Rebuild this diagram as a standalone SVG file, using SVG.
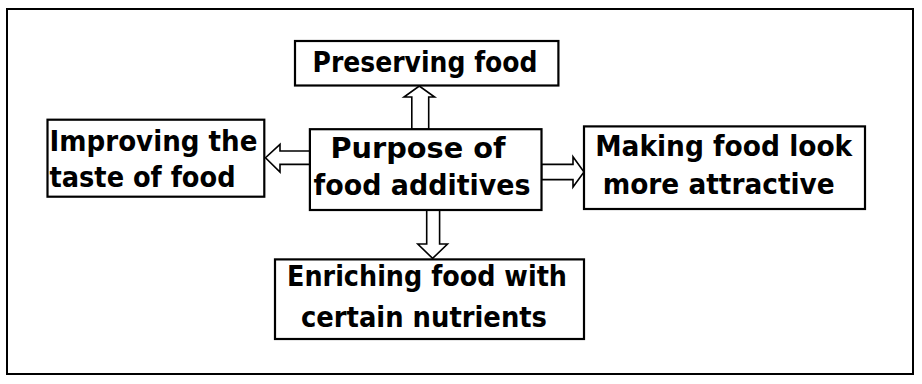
<svg xmlns="http://www.w3.org/2000/svg" width="922" height="384" viewBox="0 0 922 384">
<style>
.box{fill:#fff;stroke:#000;stroke-width:2.2}
.arr{fill:#fff;stroke:#000;stroke-width:1.6;stroke-linejoin:miter}
text{font-family:"DejaVu Sans","Liberation Sans",sans-serif;font-weight:bold;font-size:27.5px;fill:#000;text-anchor:middle}
text.l{text-anchor:start}
</style>
<rect width="922" height="384" fill="#fff"/>
<rect x="7" y="9" width="906" height="365" fill="none" stroke="#000" stroke-width="2"/>
<g id="connectors">
<polygon class="arr" points="411.8,129.2 411.8,97 404,97 419.3,86 434.6,97 428.7,97 428.7,129.2"/>
<polygon class="arr" points="309.9,151 280,151 280,144.4 265.5,157.7 280,172 280,164.4 309.9,164.4"/>
<polygon class="arr" points="541.5,164.4 573,164.4 573,156.8 584,172 573,187 573,179.6 541.5,179.6"/>
<polygon class="arr" points="426.7,210 426.7,244 417.8,244 432.6,258.4 447.5,244 439.6,244 439.6,210"/>
</g>
<g id="preserving"><rect class="box" x="295" y="41" width="263.4" height="44.5"/><text x="425" y="72" textLength="225" lengthAdjust="spacingAndGlyphs">Preserving food</text></g>
<g id="improving"><rect class="box" x="47.5" y="119.7" width="216.8" height="77"/><text class="l" x="49.5" y="150.5" textLength="208" lengthAdjust="spacingAndGlyphs">Improving the</text><text class="l" x="49.5" y="186.5" textLength="186" lengthAdjust="spacingAndGlyphs">taste of food</text></g>
<g id="purpose"><rect class="box" x="309.9" y="129.2" width="231.6" height="80.8"/><text x="418" y="158" textLength="175" lengthAdjust="spacingAndGlyphs">Purpose of</text><text x="422" y="195" textLength="217" lengthAdjust="spacingAndGlyphs">food additives</text></g>
<g id="making"><rect class="box" x="584" y="126.4" width="281" height="82.6"/><text x="723.7" y="155.5" textLength="257" lengthAdjust="spacingAndGlyphs">Making food look</text><text x="718.7" y="193.5" textLength="232" lengthAdjust="spacingAndGlyphs">more attractive</text></g>
<g id="enriching"><rect class="box" x="275" y="259.4" width="309" height="79.6"/><text x="427" y="286" textLength="280" lengthAdjust="spacingAndGlyphs">Enriching food with</text><text x="424" y="327" textLength="246" lengthAdjust="spacingAndGlyphs">certain nutrients</text></g>
</svg>
